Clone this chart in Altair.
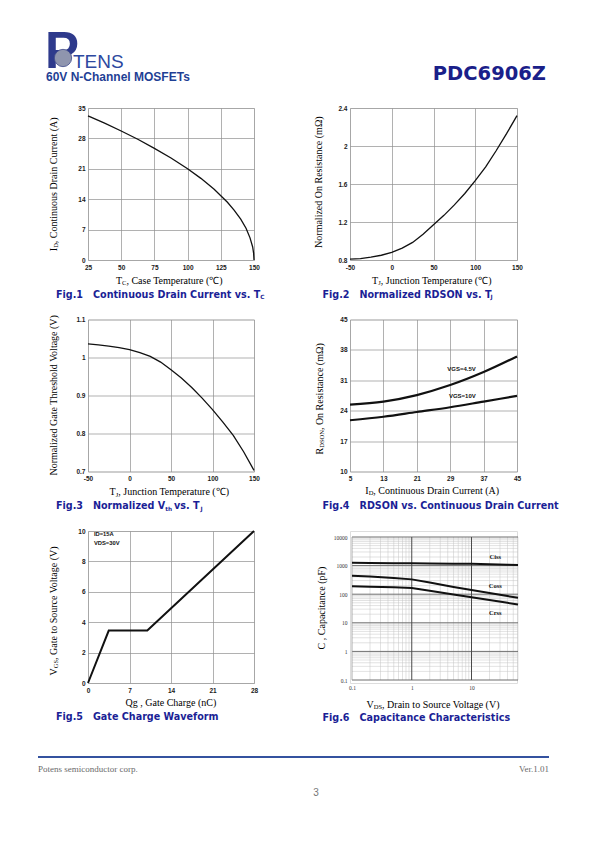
import altair as alt
import pandas as pd

# ---------------- data ----------------
fig1_tc = [25, 37.5, 50, 62.5, 75, 87.5, 100, 110, 120, 125, 130, 135, 140, 144, 147, 149, 149.7, 150]
fig1_id = [33.2, 31.5, 29.7, 27.8, 25.7, 23.5, 21.0, 18.8, 16.3, 14.8, 13.3, 11.5, 9.4, 7.3, 5.1, 3.0, 1.6, 0.0]

fig2_tj = [-50, -37.5, -25, -12.5, 0, 12.5, 25, 37.5, 50, 62.5, 75, 87.5, 100, 112.5, 125, 137.5, 150]
fig2_r = [0.81, 0.815, 0.83, 0.85, 0.88, 0.925, 0.985, 1.07, 1.17, 1.27, 1.38, 1.50, 1.635, 1.78, 1.95, 2.13, 2.32]

fig3_tj = [-50, -37.5, -25, -12.5, 0, 12.5, 25, 37.5, 50, 62.5, 75, 87.5, 100, 112.5, 125, 137.5, 150]
fig3_vth = [1.036, 1.033, 1.030, 1.026, 1.021, 1.013, 1.003, 0.988, 0.968, 0.946, 0.921, 0.893, 0.863, 0.830, 0.795, 0.752, 0.703]

fig4_id = [5, 13, 21, 29, 37, 45]
fig4_vgs45 = [25.4, 26.1, 27.6, 29.9, 32.9, 36.5]
fig4_vgs10 = [21.8, 22.6, 23.7, 24.8, 26.1, 27.4]
fig4_lab = ["VGS=4.5V", "VGS=10V"]
fig4_lab_x = [31.7, 31.9]
fig4_lab_y = [33.6, 27.4]

fig5_qg = [0, 3.5, 10.0, 28]
fig5_vgs = [0, 3.45, 3.45, 10]
fig5_lab = ["ID=15A", "VDS=30V"]
fig5_lab_x = [1.0, 1.0]
fig5_lab_y = [9.78, 9.19]

fig6_vds = [0.1, 0.2, 0.5, 1, 2, 5, 10, 20, 40, 60]
fig6_ciss = [1250, 1240, 1220, 1200, 1190, 1170, 1150, 1110, 1070, 1050]
fig6_coss = [444, 415, 370, 330, 255, 180, 140, 110, 86, 75]
fig6_crss = [189, 183, 175, 165, 133, 98, 78, 63, 50, 44]
fig6_lab = ["Ciss", "Coss", "Crss"]
fig6_lab_x = [25, 25, 25]
fig6_lab_y = [2000, 195, 22]
fig6_v_minor = [0.2, 0.3, 0.4, 0.5, 0.6, 0.7, 0.8, 0.9, 2, 3, 4, 5, 6, 7, 8, 9, 20, 30, 40, 50, 60]
fig6_v_major = [1, 10]
fig6_v_frame = [0.1]
fig6_h_minor = [0.2, 0.3, 0.4, 0.5, 0.6, 0.7, 0.8, 0.9, 2, 3, 4, 5, 6, 7, 8, 9,
                20, 30, 40, 50, 60, 70, 80, 90, 200, 300, 400, 500, 600, 700, 800, 900,
                2000, 3000, 4000, 5000, 6000, 7000, 8000, 9000]
fig6_h_major = [0.1, 1, 10, 100, 1000, 10000]

# ---------------- styling helpers ----------------
W0, W1, H = 166, 167, 152
GRID = "#8f8f8f"
CAP = "#1b1f96"

TIMES = {' ': .25, ',': .25, '.': .25, '(': .333, ')': .333, '=': .564, '℃': 1.0, 'Ω': .768,
         'A': .722, 'B': .667, 'C': .667, 'D': .722, 'E': .611, 'F': .556, 'G': .722, 'H': .722, 'I': .333,
         'J': .389, 'K': .722, 'L': .611, 'M': .889, 'N': .722, 'O': .722, 'P': .556, 'Q': .722, 'R': .667,
         'S': .556, 'T': .611, 'U': .722, 'V': .722, 'W': .944,
         'a': .444, 'b': .5, 'c': .444, 'd': .5, 'e': .444, 'f': .333, 'g': .5, 'h': .5, 'i': .278, 'j': .278,
         'k': .5, 'l': .278, 'm': .778, 'n': .5, 'o': .5, 'p': .5, 'q': .5, 'r': .333, 's': .389, 't': .278,
         'u': .5, 'v': .5, 'w': .722, 'x': .5, 'y': .5, 'z': .444}
DJB = {' ': .348, '.': .381, ',': .381, 'A': .774, 'C': .733, 'D': .830, 'F': .683, 'G': .821, 'I': .372,
       'J': .372, 'N': .837, 'O': .850, 'R': .770, 'S': .720, 'T': .682, 'V': .774, 'W': 1.103,
       'a': .675, 'c': .593, 'd': .716, 'e': .678, 'f': .435, 'g': .716, 'h': .712, 'i': .343, 'l': .343,
       'm': 1.042, 'n': .712, 'o': .687, 'p': .716, 'r': .493, 's': .595, 't': .478, 'u': .712, 'v': .652,
       'z': .583, 'k': .665, 'y': .652}
for d in "0123456789":
    DJB[d] = .696


def tw(s, table, size):
    return sum(table.get(ch, 0.5) for ch in s) * size


def txt(s, x, y, size, font="Liberation Serif", color="#000000", weight="normal",
        align="left", baseline="alphabetic", angle=0):
    kw = dict(text=s, font=font, fontSize=size, color=color, fontWeight=weight,
              align=align, baseline=baseline)
    if angle:
        kw["angle"] = angle
    return alt.Chart(pd.DataFrame({"k": [0]})).mark_text(**kw).encode(
        x=alt.value(x), y=alt.value(y))


def segs(parts, size, table, ratio):
    out, off = [], 0.0
    for p in parts:
        t, sub = p[0], p[1]
        if len(p) > 2:
            off += p[2]
        fs = size * ratio if sub else size
        out.append((t, off, fs, sub))
        off += tw(t, table, fs)
    return out, off


def htitle(parts, cx, by, size=10):
    ss, total = segs(parts, size, TIMES, 0.65)
    x0 = cx - total / 2
    return [txt(t, x0 + o, by + (1.8 if sub else 0), fs) for t, o, fs, sub in ss]


def vtitle(parts, bx, cy, size=10):
    ss, total = segs(parts, size, TIMES, 0.65)
    y0 = cy + total / 2
    return [txt(t, bx + (1.8 if sub else 0), y0 - o, fs, angle=270) for t, o, fs, sub in ss]


def caption(num, parts, fx, mx, by=189.5, size=9.6):
    out = [txt(num, fx, by, size, font="DejaVu Sans", color=CAP, weight="bold")]
    ss, total = segs(parts, size, DJB, 0.6)
    for t, o, fs, sub in ss:
        out.append(txt(t, mx + o, by + (1.5 if sub else 0), fs, font="DejaVu Sans",
                       color=CAP, weight="bold"))
    return out


def xaxis(values, pad=4):
    return alt.Axis(values=values, title=None, grid=True, gridColor=GRID, gridWidth=0.7,
                    ticks=False, domain=False, labelFont="Liberation Sans", labelFontWeight="bold",
                    labelFontSize=6.5, labelColor="#1a1a1a", labelPadding=pad, labelFlush=False,
                    labelOverlap=False, labelExpr="'' + datum.value")


def yaxis(values, pad=3):
    return alt.Axis(values=values, title=None, grid=True, gridColor=GRID, gridWidth=0.7,
                    ticks=False, domain=False, labelFont="Liberation Sans", labelFontWeight="bold",
                    labelFontSize=6.5, labelColor="#1a1a1a", labelPadding=pad, labelFlush=False,
                    labelOverlap=False, labelExpr="'' + datum.value")


def lin(lo, hi):
    return alt.Scale(domain=[lo, hi], nice=False, zero=False)


# ---------------- Fig.1 ----------------
df1 = pd.DataFrame({"x": fig1_tc, "y": fig1_id})
l1 = alt.Chart(df1).mark_line(color="#111111", strokeWidth=1.3).encode(
    x=alt.X("x:Q", scale=lin(25, 150), axis=xaxis([25, 50, 75, 100, 125, 150])),
    y=alt.Y("y:Q", scale=lin(0, 35), axis=yaxis([0, 7, 14, 21, 28, 35])))
header = [
    txt("P", -43, -40, 51, font="Liberation Sans", color="#2e3a8c", weight="bold"),
    alt.Chart(pd.DataFrame({"k": [0]})).mark_circle(
        size=300, color="#8f95ae", opacity=1, stroke="#3f4a8a", strokeWidth=0.8).encode(
        x=alt.value(-25), y=alt.value(-50)),
    txt("TENS", -15, -40, 19, font="Liberation Sans", color="#2d48a0"),
    txt("60V N-Channel MOSFETs", -42, -27, 12, font="Liberation Sans", color="#1f3f95", weight="bold"),
    txt("PDC6906Z", 458, -28, 19.5, font="DejaVu Sans", color="#1a2089", weight="bold", align="right"),
]
t1 = (vtitle([("I", False), ("D", True), (" , Continuous Drain Current (A)", False)], -31.5, 75)
      + htitle([("T", False), ("C", True), (" , Case Temperature (℃)", False)], 83, 175.5)
      + caption("Fig.1", [("Continuous Drain Current vs. T", False), ("C", True)], -32, 5))
fig1 = alt.layer(l1, *header, *t1).properties(width=W0, height=H)

# ---------------- Fig.2 ----------------
df2 = pd.DataFrame({"x": fig2_tj, "y": fig2_r})
l2 = alt.Chart(df2).mark_line(color="#111111", strokeWidth=1.3).encode(
    x=alt.X("x:Q", scale=lin(-50, 150), axis=xaxis([-50, 0, 50, 100, 150])),
    y=alt.Y("y:Q", scale=lin(0.8, 2.4), axis=yaxis([0.8, 1.2, 1.6, 2.0, 2.4])))
t2 = (vtitle([("Normalized On Resistance (mΩ)", False)], -28.5, 74)
      + htitle([("T", False), ("J", True), (" , Junction Temperature (℃)", False)], 83.5, 175.5)
      + caption("Fig.2", [("Normalized RDSON vs. T", False), ("J", True, -1.2)], -27.5, 9.5))
fig2 = alt.layer(l2, *t2).properties(width=W1, height=H)

# ---------------- Fig.3 ----------------
df3 = pd.DataFrame({"x": fig3_tj, "y": fig3_vth})
l3 = alt.Chart(df3).mark_line(color="#111111", strokeWidth=1.3).encode(
    x=alt.X("x:Q", scale=lin(-50, 150), axis=xaxis([-50, 0, 50, 100, 150])),
    y=alt.Y("y:Q", scale=lin(0.7, 1.1), axis=yaxis([0.7, 0.8, 0.9, 1.0, 1.1])))
t3 = (vtitle([("Normalized Gate Threshold Voltage (V)", False)], -31.5, 75)
      + htitle([("T", False), ("J", True), (" , Junction Temperature (℃)", False)], 83, 175.5)
      + caption("Fig.3", [("Normalized V", False), ("th", True), (" vs. T", False, 2.0),
                          ("J", True, -2.5)], -32, 5))
fig3 = alt.layer(l3, *t3).properties(width=W0, height=H)

# ---------------- Fig.4 ----------------
xs4, ys4 = lin(5, 45), lin(10, 45)
ax4x, ax4y = xaxis([5, 13, 21, 29, 37, 45]), yaxis([10, 17, 24, 31, 38, 45])
df4 = pd.DataFrame({"x": fig4_id * 2, "y": fig4_vgs45 + fig4_vgs10,
                    "s": ["4.5"] * len(fig4_id) + ["10"] * len(fig4_id)})
l4 = alt.Chart(df4).mark_line(color="#111111", strokeWidth=2.2, interpolate="monotone").encode(
    x=alt.X("x:Q", scale=xs4, axis=ax4x),
    y=alt.Y("y:Q", scale=ys4, axis=ax4y),
    detail="s:N")
lab4 = alt.Chart(pd.DataFrame({"x": fig4_lab_x, "y": fig4_lab_y, "t": fig4_lab})).mark_text(
    font="Liberation Sans", fontSize=6, fontWeight="bold", color="#111111").encode(
    x=alt.X("x:Q", scale=xs4, axis=ax4x), y=alt.Y("y:Q", scale=ys4, axis=ax4y), text="t:N")
t4 = (vtitle([("R", False), ("DSON", True), (" , On Resistance (mΩ)", False)], -27.5, 78)
      + htitle([("I", False), ("D", True), (" , Continuous Drain Current (A)", False)], 83.5, 174)
      + caption("Fig.4", [("RDSON vs. Continuous Drain Current", False)], -27.5, 9.5))
fig4 = alt.layer(l4, lab4, *t4).properties(width=W1, height=H)

# ---------------- Fig.5 ----------------
xs5, ys5 = lin(0, 28), lin(0, 10)
ax5x, ax5y = xaxis([0, 7, 14, 21, 28]), yaxis([0, 2, 4, 6, 8, 10])
df5 = pd.DataFrame({"x": fig5_qg, "y": fig5_vgs})
l5 = alt.Chart(df5).mark_line(color="#111111", strokeWidth=2).encode(
    x=alt.X("x:Q", scale=xs5, axis=ax5x),
    y=alt.Y("y:Q", scale=ys5, axis=ax5y))
lab5 = alt.Chart(pd.DataFrame({"x": fig5_lab_x, "y": fig5_lab_y, "t": fig5_lab})).mark_text(
    font="Liberation Sans", fontSize=5.8, fontWeight="bold", color="#111111", align="left").encode(
    x=alt.X("x:Q", scale=xs5, axis=ax5x), y=alt.Y("y:Q", scale=ys5, axis=ax5y), text="t:N")
footer = [
    alt.Chart(pd.DataFrame({"k": [0]})).mark_rule(color="#34529f", strokeWidth=2).encode(
        x=alt.value(-50), x2=alt.value(461), y=alt.value(226)),
    txt("Potens semiconductor corp.", -50, 241, 9, color="#6a6a6a"),
    txt("Ver.1.01", 461, 241, 9, color="#6a6a6a", align="right"),
    txt("3", 228, 264.5, 10, font="Liberation Sans", color="#777777", align="center"),
]
t5 = (vtitle([("V", False), ("GS", True), (" , Gate to Source Voltage (V)", False)], -31.5, 78)
      + htitle([("Qg , Gate Charge (nC)", False)], 83, 175)
      + caption("Fig.5", [("Gate Charge Waveform", False)], -32, 5, by=189))
fig5 = alt.layer(l5, lab5, *footer, *t5).properties(width=W0, height=H)

# ---------------- Fig.6 ----------------
xs6 = alt.Scale(type="log", domain=[0.1, 60], range=[2, 168], nice=False)
ys6 = alt.Scale(type="log", domain=[0.1, 10000], range=[149, 6], nice=False)
ax6 = dict(title=None, grid=False, ticks=False, domain=False, labelFont="Liberation Serif",
           labelFontSize=5.5, labelColor="#333333", labelFlush=False, labelOverlap=False,
           labelExpr="'' + datum.value")
ax6x = alt.Axis(values=[0.1, 1, 10], labelPadding=5, offset=-3, **ax6)
ax6y = alt.Axis(values=[0.1, 1, 10, 100, 1000, 10000], labelPadding=3, **ax6)


def vrules(vals, color, width):
    return alt.Chart(pd.DataFrame({"v": vals})).mark_rule(color=color, strokeWidth=width).encode(
        x=alt.X("v:Q", scale=xs6, axis=ax6x),
        y=alt.YDatum(0.1, type="quantitative", scale=ys6, axis=ax6y),
        y2=alt.Y2Datum(10000))


def hrules(vals, color, width):
    return alt.Chart(pd.DataFrame({"v": vals})).mark_rule(color=color, strokeWidth=width).encode(
        y=alt.Y("v:Q", scale=ys6, axis=ax6y),
        x=alt.XDatum(0.1, type="quantitative", scale=xs6, axis=ax6x),
        x2=alt.X2Datum(60))


df6 = pd.DataFrame({"x": fig6_vds * 3, "y": fig6_ciss + fig6_coss + fig6_crss,
                    "s": ["Ciss"] * 10 + ["Coss"] * 10 + ["Crss"] * 10})
l6 = alt.Chart(df6).mark_line(color="#111111", strokeWidth=2).encode(
    x=alt.X("x:Q", scale=xs6, axis=ax6x),
    y=alt.Y("y:Q", scale=ys6, axis=ax6y),
    detail="s:N")
lab6 = alt.Chart(pd.DataFrame({"x": fig6_lab_x, "y": fig6_lab_y, "t": fig6_lab})).mark_text(
    font="Liberation Serif", fontSize=6.5, fontWeight="bold", color="#111111").encode(
    x=alt.X("x:Q", scale=xs6, axis=ax6x), y=alt.Y("y:Q", scale=ys6, axis=ax6y), text="t:N")
t6 = (vtitle([("C , Capacitance (pF)", False)], -25.5, 77)
      + htitle([("V", False), ("DS", True), (" , Drain to Source Voltage (V)", False)], 85, 176.5)
      + caption("Fig.6", [("Capacitance Characteristics", False)], -27.5, 9.5))
fig6 = alt.layer(
    hrules(fig6_h_minor, "#c4c4c4", 0.5), vrules(fig6_v_minor, "#c4c4c4", 0.5),
    hrules(fig6_h_major, "#6f6f6f", 1), vrules(fig6_v_frame, "#999999", 0.8),
    vrules(fig6_v_major, "#4a4a4a", 1), l6, lab6, *t6).properties(width=W1, height=H)

chart = alt.concat(fig1, fig2, fig3, fig4, fig5, fig6, columns=2,
                   spacing={"row": 59.5, "column": 96}, bounds="flush").properties(
    padding={"left": 28, "top": 18, "right": 5, "bottom": 5}
).configure_view(stroke="transparent").configure(background="white")

chart.save("out.html", embed_options={"renderer": "svg", "actions": False})
